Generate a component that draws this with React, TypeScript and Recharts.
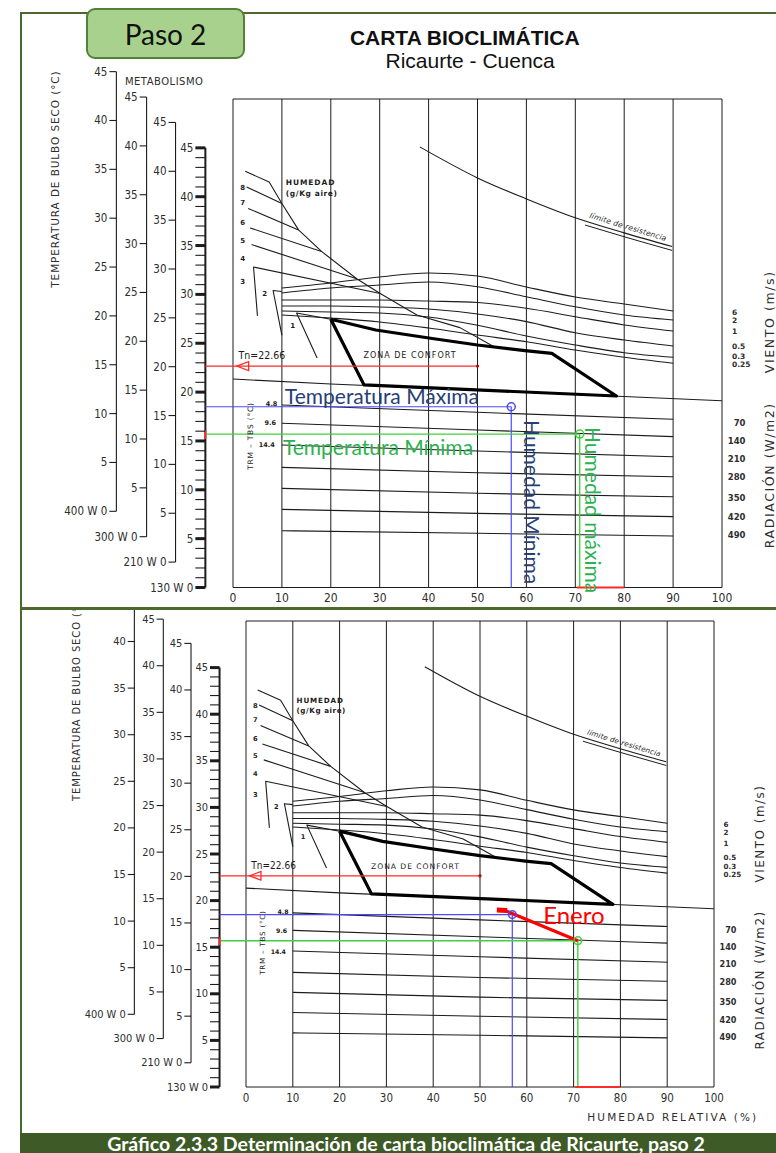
import React from 'react';
import { ComposedChart, Line, XAxis, YAxis, ReferenceLine, ReferenceDot } from 'recharts';

// ---------------- data (RH %, dry-bulb °C) ----------------
const rhTicks = [0, 10, 20, 30, 40, 50, 60, 70, 80, 90, 100];
const scaleTicks = [0, 5, 10, 15, 20, 25, 30, 35, 40, 45];
const fineTicks = [0, 1, 2, 3, 4, 5, 6, 7, 8, 9, 10, 11, 12, 13, 14, 15, 16, 17, 18, 19, 20, 21, 22, 23, 24, 25, 26, 27, 28, 29, 30, 31, 32, 33, 34, 35, 36, 37, 38, 39, 40, 41, 42, 43, 44, 45];
const metabolismLabels = ['400 W', '300 W', '210 W', '130 W'];
const metabolismOffsets = [7.8, 5.2, 2.6, 0];

const limiteResistencia = [
  { rh: 38.2, t: 45.1 }, { rh: 50.1, t: 41.9 }, { rh: 59.9, t: 39.8 },
  { rh: 69.7, t: 37.9 }, { rh: 80.0, t: 36.3 }, { rh: 89.8, t: 34.9 },
];
const limiteResistencia2 = [{ rh: 72.0, t: 37.1 }, { rh: 80.0, t: 35.9 }, { rh: 89.8, t: 34.5 }];

const curvaHumedad = [
  { rh: 2.5, t: 42.6 }, { rh: 7.4, t: 41.5 }, { rh: 10.0, t: 39.3 }, { rh: 13.4, t: 36.6 },
  { rh: 18.1, t: 34.4 }, { rh: 25.3, t: 31.6 }, { rh: 30.1, t: 30.1 }, { rh: 37.6, t: 27.9 },
  { rh: 46.4, t: 26.6 }, { rh: 53.2, t: 24.7 },
];
const humedad8 = [{ rh: 2.8, t: 41.0 }, { rh: 10.0, t: 39.3 }];
const humedad7 = [{ rh: 3.1, t: 38.8 }, { rh: 13.4, t: 36.6 }];
const humedad6 = [{ rh: 3.5, t: 36.8 }, { rh: 18.1, t: 34.4 }];
const humedad5 = [{ rh: 3.8, t: 35.1 }, { rh: 25.3, t: 31.6 }];
const humedad4 = [{ rh: 5.0, t: 27.8 }, { rh: 4.2, t: 32.8 }, { rh: 30.1, t: 30.1 }];
const corchete2 = [{ rh: 10.0, t: 25.8 }, { rh: 8.2, t: 30.4 }, { rh: 10.0, t: 30.3 }];
const corchete1 = [{ rh: 17.2, t: 23.5 }, { rh: 13.0, t: 28.1 }, { rh: 20.0, t: 27.45 }];
const humedadLabels = ['8', '7', '6', '5', '4', '3'];
const humedadLabelT = [40.9, 39.4, 37.3, 35.5, 33.6, 31.3];

const vientoRh = [10, 20, 30, 40, 50, 60, 70, 80, 90];
const viento6 = [30.66, 31.17, 31.78, 32.19, 31.88, 30.76, 29.73, 29.02, 28.3];
const viento2 = [30.15, 30.66, 30.96, 31.27, 30.79, 29.76, 28.73, 27.89, 27.38];
const viento1 = [29.43, 29.43, 29.43, 29.32, 29.17, 28.58, 27.72, 26.87, 26.25];
const viento05 = [28.81, 28.81, 28.71, 28.51, 28.0, 27.21, 26.08, 25.33, 24.72];
const viento03 = [28.3, 28.2, 28.1, 27.69, 26.84, 25.74, 24.82, 24.03, 23.56];
const viento025 = [27.89, 27.58, 27.18, 26.56, 25.84, 25.16, 24.31, 23.56, 22.95];
const vientoLabels = ['6', '2', '1', '0.5', '0.3', '0.25'];
const vientoLabelT = [28.13, 27.28, 26.18, 24.65, 23.69, 22.85];

const radRh = [10, 50, 90];
const rad48 = [18.68, 17.93, 17.22];
const rad96 = [16.81, 16.12, 15.44];
const rad144 = [14.59, 13.97, 13.39];
const rad4 = [12.3, 11.75, 11.34];
const rad5 = [10.15, 9.64, 9.29];
const rad6 = [8.0, 7.59, 7.25];
const rad7 = [5.81, 5.55, 5.27];
const radLabels = ['70', '140', '210', '280', '350', '420', '490'];
const radLabelT = [16.84, 15.0, 13.15, 11.31, 9.16, 7.21, 5.37];
const trmLabels = ['4.8', '9.6', '14.4'];
const trmLabelRh = [7.9, 7.6, 6.9];
const trmLabelT = [18.78, 16.84, 14.59];

const lineaSombra = [{ rh: 0, t: 21.34 }, { rh: 20, t: 20.83 }, { rh: 100, t: 19.12 }];
const zonaConfort = [
  { rh: 20.0, t: 27.45 }, { rh: 29.2, t: 26.36 }, { rh: 40.4, t: 25.51 }, { rh: 50.0, t: 24.82 },
  { rh: 59.7, t: 24.24 }, { rh: 65.2, t: 23.97 }, { rh: 78.4, t: 19.6 }, { rh: 26.8, t: 20.73 },
  { rh: 20.0, t: 27.45 },
];

const Tn = 22.66;
const tempMax = 18.5;
const tempMin = 15.7;
const humMin = 56.9;
const humMax = 70.9;
const enero = [{ rh: 55.5, t: 18.9 }, { rh: 70.9, t: 15.7 }];
const eneroMarca = [{ rh: 53.6, t: 19.0 }, { rh: 55.8, t: 18.95 }];

// ---------------- layout / style ----------------
const SCALE_POS = [-23.85, -17.67, -11.75, -5.65];
const INK = '#1c1c1c';
const INK2 = '#2e2e2e';
const RED = '#ff2b2b';
const BLUE = '#4a4aff';
const GREEN = '#3fd13f';
const NAVY = '#273f75';
const GREEN_TXT = '#2cb24f';
const FRAME = '#4d6a2e';
const CAD = '"DejaVu Sans Condensed", "DejaVu Sans", sans-serif';
const SANS = '"DejaVu Sans", sans-serif';
const ARIAL = '"Liberation Sans", Arial, sans-serif';
const LATO = 'Lato, "Open Sans", sans-serif';

const TOP_GEO = { x0: 233, kx: 4.89, y0: 587.5, ky: 9.77, plotTop: 65, plotBottom: 590, height: 640, s: 1 };
const BOT_GEO = { x0: 246, kx: 4.68, y0: 527, ky: 9.32, plotTop: 20, plotBottom: 530, height: 573, s: 0.955 };

const toPts = (xs: number[], ys: number[]) => xs.map((rh, i) => ({ rh, t: ys[i] }));
// axis ids sorted so that the 130 W scale (k = 3) is the one next to the plot
const axisId = (k: number) => `a${3 - k}`;

function Panel({ g, variant }: { g: any; variant: 'top' | 'bottom' }) {
  const s = g.s;
  const isTop = variant === 'top';
  const tBot = (g.y0 - g.plotBottom) / g.ky;
  const tTop = (g.y0 - g.plotTop) / g.ky;
  const xMin = SCALE_POS[3];
  const pxOf = (rh: number) => g.x0 + g.kx * rh;
  const widths = [
    pxOf(SCALE_POS[0]),
    g.kx * (SCALE_POS[1] - SCALE_POS[0]),
    g.kx * (SCALE_POS[2] - SCALE_POS[1]),
    g.kx * (SCALE_POS[3] - SCALE_POS[2]),
  ];
  const rightW = 776 - pxOf(100);

  const T = (key: string, rh: number, t: number, text: string, st: any = {}) => (
    <ReferenceDot
      key={key}
      xAxisId="x"
      yAxisId="t"
      x={rh}
      y={t}
      r={0}
      ifOverflow="visible"
      shape={(p: any) => (
        <text
          x={p.cx}
          y={p.cy}
          transform={st.rot ? `rotate(${st.rot} ${p.cx} ${p.cy})` : undefined}
          textAnchor={st.anchor || 'middle'}
          dominantBaseline={st.base || 'central'}
          fontSize={(st.size || 10) * s}
          fontFamily={st.font || SANS}
          fontWeight={st.weight || 400}
          fontStyle={st.style || 'normal'}
          letterSpacing={st.ls ? st.ls * s : 0}
          fill={st.fill || INK}
        >
          {text}
        </text>
      )}
    />
  );

  const seg = (key: string, a: any, b: any, stroke = INK, w = 1, yId = 't') => (
    <ReferenceLine
      key={key}
      xAxisId="x"
      yAxisId={yId}
      segment={[{ x: a.rh, y: a.t }, { x: b.rh, y: b.t }]}
      stroke={stroke}
      strokeWidth={w}
      ifOverflow="visible"
    />
  );

  const curve = (key: string, data: any[], stroke = INK, w = 1.1, type: any = 'linear') => (
    <Line
      key={key}
      data={data}
      dataKey="t"
      xAxisId="x"
      yAxisId="t"
      type={type}
      stroke={stroke}
      strokeWidth={w}
      dot={false}
      activeDot={false}
      isAnimationActive={false}
      strokeLinejoin="round"
    />
  );

  const xTick = (p: any) => (
    <text x={p.x} y={p.y + 8 * s} textAnchor="middle" dominantBaseline="central" fontSize={12 * s} fontFamily={CAD} fill={INK2}>
      {p.payload.value}
    </text>
  );

  const scaleTick = (k: number) => (p: any) => {
    const v = p.payload.value;
    const isS4 = k === 3;
    const major = v % 5 === 0;
    const len = (isS4 ? 10 : 7) * s;
    const label = v === 0 ? `${metabolismLabels[k]} 0` : String(v);
    return (
      <g>
        <line x1={p.x - len} x2={p.x} y1={p.y} y2={p.y} stroke={INK} strokeWidth={isS4 ? (major ? 3 : 1.1) : 1.1} />
        {major && (
          <text x={p.x - len - 2 * s} y={p.y} textAnchor="end" dominantBaseline="central" fontSize={11.5 * s} fontFamily={CAD} fill={INK2}>
            {label}
          </text>
        )}
      </g>
    );
  };

  const sideTicks = [...vientoLabelT, ...radLabelT];
  const sideTick = (p: any) => {
    const v = p.payload.value;
    const wi = vientoLabelT.findIndex((q) => Math.abs(q - v) < 1e-6);
    if (wi >= 0) {
      return (
        <text x={p.x + 10 * s} y={p.y} textAnchor="start" dominantBaseline="central" fontSize={7.5 * s} fontFamily={SANS} fontWeight={700} fill={INK2}>
          {vientoLabels[wi]}
        </text>
      );
    }
    const ri = radLabelT.findIndex((q) => Math.abs(q - v) < 1e-6);
    return (
      <text x={p.x + 23.5 * s} y={p.y} textAnchor="end" dominantBaseline="central" fontSize={8.5 * s} fontFamily={SANS} fontWeight={700} fill={INK2}>
        {ri >= 0 ? radLabels[ri] : ''}
      </text>
    );
  };

  const vientos = [viento6, viento2, viento1, viento05, viento03, viento025];
  const rads = [rad48, rad96, rad144, rad4, rad5, rad6, rad7];

  return (
    <ComposedChart width={776} height={g.height} margin={{ top: g.plotTop, right: 0, bottom: 0, left: 0 }}>
      <XAxis
        xAxisId="x"
        dataKey="rh"
        type="number"
        domain={[xMin, 100]}
        allowDataOverflow
        ticks={rhTicks}
        interval={0}
        axisLine={false}
        tickLine={false}
        tickSize={0}
        tickMargin={0}
        height={g.height - g.plotBottom}
        tick={xTick}
      />
      {[3, 2, 1, 0].map((k) => (
        <YAxis
          key={axisId(k)}
          yAxisId={axisId(k)}
          orientation="left"
          type="number"
          domain={[tBot - metabolismOffsets[k], tTop - metabolismOffsets[k]]}
          allowDataOverflow
          ticks={k === 3 ? fineTicks : scaleTicks}
          interval={0}
          width={widths[k]}
          axisLine={false}
          tickLine={false}
          tickSize={0}
          tickMargin={0}
          tick={scaleTick(k)}
        />
      ))}
      <YAxis yAxisId="t" type="number" domain={[tBot, tTop]} allowDataOverflow hide />
      <YAxis
        yAxisId="side"
        orientation="right"
        type="number"
        domain={[tBot, tTop]}
        allowDataOverflow
        ticks={sideTicks}
        interval={0}
        width={rightW}
        axisLine={false}
        tickLine={false}
        tickSize={0}
        tickMargin={0}
        tick={sideTick}
      />

      {/* metabolism scale spines */}
      {[0, 1, 2, 3].map((k) =>
        seg(`sp${k}`, { rh: SCALE_POS[k], t: 0 }, { rh: SCALE_POS[k], t: 45 }, INK, k === 3 ? 2 : 1.1, axisId(k))
      )}

      {/* chart grid */}
      {rhTicks.map((rh) => seg(`gv${rh}`, { rh, t: 0 }, { rh, t: 50 }, INK, 1))}
      {seg('gtop', { rh: 0, t: 50 }, { rh: 100, t: 50 }, INK, 1)}
      {seg('gbot', { rh: 0, t: 0 }, { rh: 100, t: 0 }, INK, 1)}

      {/* curves */}
      {curve('lim', limiteResistencia, INK, 1.1, 'monotone')}
      {curve('lim2', limiteResistencia2, INK, 1, 'monotone')}
      {curve('hum', curvaHumedad, INK, 1.1)}
      {curve('h8', humedad8)}
      {curve('h7', humedad7)}
      {curve('h6', humedad6)}
      {curve('h5', humedad5)}
      {curve('h4', humedad4)}
      {curve('c2', corchete2)}
      {curve('c1', corchete1)}
      {vientos.map((v, i) => curve(`v${i}`, toPts(vientoRh, v), INK, 1.1, 'monotone'))}
      {rads.map((v, i) => curve(`r${i}`, toPts(radRh, v), INK, 1.1, 'monotone'))}
      {curve('sombra', lineaSombra, INK, 1.1)}
      {curve('confort', zonaConfort, '#000', 3.2)}

      {/* chart texts */}
      {T('tA', -36.3, 41.8, 'TEMPERATURA DE BULBO SECO (°C)', { rot: -90, size: 10.5, ls: 0.9, fill: INK2 })}
      {isTop && T('met', -22.1, 51.84, 'METABOLISMO', { anchor: 'start', size: 10, ls: 0.5, fill: INK2 })}
      {isTop && T('ti1', 47.4, 55.5, 'CARTA BIOCLIMÁTICA', { base: 'alphabetic', size: 21, weight: 700, font: ARIAL, fill: '#111' })}
      {isTop && T('ti2', 48.5, 53.2, 'Ricaurte - Cuenca', { base: 'alphabetic', size: 21, font: ARIAL, fill: '#111' })}
      {T('hu1', 10.8, 41.43, 'HUMEDAD', { anchor: 'start', size: 7.5, ls: 0.9, weight: 700 })}
      {T('hu2', 10.8, 40.35, '(g/Kg aire)', { anchor: 'start', size: 7.5, ls: 0.6, weight: 700 })}
      {humedadLabels.map((l, i) => T(`hl${i}`, 2.0, humedadLabelT[i], l, { size: 7, weight: 700 }))}
      {T('hl2b', 6.5, 30.0, '2', { size: 7, weight: 700 })}
      {T('hl1b', 12.2, 26.8, '1', { size: 7, weight: 700 })}
      {T('limT', 80.8, 36.9, 'límite de resistencia', { rot: 17, size: 7.5, style: 'italic', ls: 0.2 })}
      {T('zc', 36.2, 23.7, 'ZONA DE CONFORT', { size: 8, ls: 1 })}
      {trmLabels.map((l, i) => T(`trm${i}`, trmLabelRh[i], trmLabelT[i], l, { size: 6.5, weight: 700 }))}
      {T('trm', 3.5, 15.5, 'TRM – TBS (°C)', { rot: -90, size: 7.5, ls: 0.8 })}
      {T('vto', 109.8, 27.2, 'VIENTO (m/s)', { rot: -90, size: 12.5, ls: 1.6, fill: INK2 })}
      {T('rad', 109.8, 11.5, 'RADIACIÓN (W/m2)', { rot: -90, size: 12.5, ls: 1.6, fill: INK2 })}
      {!isTop && T('hr', 91.2, -3.2, 'HUMEDAD RELATIVA (%)', { size: 11, ls: 2.2, fill: INK2 })}

      {/* Tn */}
      {seg('tn', { rh: xMin, t: Tn }, { rh: 50, t: Tn }, RED, 1.2)}
      <ReferenceDot
        xAxisId="x"
        yAxisId="t"
        x={0.75}
        y={Tn}
        r={0}
        ifOverflow="visible"
        shape={(p: any) => (
          <polygon
            points={`${p.cx},${p.cy} ${p.cx + 12 * s},${p.cy - 4.5 * s} ${p.cx + 12 * s},${p.cy + 4.5 * s}`}
            fill="none"
            stroke={RED}
            strokeWidth={1.3}
          />
        )}
      />
      <ReferenceDot xAxisId="x" yAxisId="t" x={50} y={Tn} r={1.6} fill="#b00" stroke="none" ifOverflow="visible" />
      {T('tnl', 5.9, 23.75, 'Tn=22.66', { size: 10.5, font: CAD })}

      {/* max / min lines */}
      {seg('bh', { rh: xMin, t: tempMax }, { rh: humMin, t: tempMax }, BLUE, 1.2)}
      {seg('bv', { rh: humMin, t: tempMax }, { rh: humMin, t: 0 }, BLUE, 1.2)}
      {seg('gh', { rh: xMin, t: tempMin }, { rh: humMax, t: tempMin }, GREEN, 1.4)}
      {seg('gv', { rh: humMax, t: tempMin }, { rh: humMax, t: 0 }, GREEN, 1.4)}
      {seg('rb', { rh: 70.3, t: 0 }, { rh: 80, t: 0 }, RED, 2)}
      {seg('rs', { rh: xMin, t: 15.2 }, { rh: xMin, t: 16.1 }, RED, 2)}
      <ReferenceDot xAxisId="x" yAxisId="t" x={humMin} y={tempMax} r={4 * s} fill="none" stroke={BLUE} strokeWidth={1.5} ifOverflow="visible" />
      <ReferenceDot xAxisId="x" yAxisId="t" x={humMax} y={tempMin} r={4 * s} fill="none" stroke={GREEN} strokeWidth={1.5} ifOverflow="visible" />

      {isTop && T('tmax', 10.6, 18.78, 'Temperatura Máxima', { anchor: 'start', base: 'alphabetic', size: 21, font: LATO, fill: NAVY })}
      {isTop && T('tmin', 10.2, 13.56, 'Temperatura Mínima', { anchor: 'start', base: 'alphabetic', size: 21, font: LATO, fill: GREEN_TXT })}
      {isTop && T('hmin', 61.2, 17.14, 'Humedad Mínima', { rot: 90, anchor: 'start', size: 21, font: LATO, fill: NAVY })}
      {isTop && T('hmax', 73.8, 16.43, 'Humedad máxima', { rot: 90, anchor: 'start', size: 21, font: LATO, fill: GREEN_TXT })}

      {!isTop && curve('eneM', eneroMarca, '#f00', 5)}
      {!isTop && curve('ene', enero, '#f00', 3.2)}
      {!isTop && T('eneT', 63.5, 17.5, 'Enero', { anchor: 'start', base: 'alphabetic', size: 24 / 0.955, font: LATO, fill: '#f00' })}
    </ComposedChart>
  );
}

export default function App() {
  return (
    <div style={{ position: 'absolute', left: 0, top: 0, width: 776, height: 1153, background: '#fff', overflow: 'hidden' }}>
      {/* frame */}
      <div style={{ position: 'absolute', left: 20, top: 12, width: 756, height: 2, background: FRAME }} />
      <div style={{ position: 'absolute', left: 20, top: 12, width: 2, height: 1122, background: FRAME }} />
      <div style={{ position: 'absolute', left: 20, top: 607, width: 756, height: 3, background: FRAME }} />

      <div style={{ position: 'absolute', left: 0, top: 0, width: 776, height: 607, overflow: 'hidden' }}>
        <Panel g={TOP_GEO} variant="top" />
      </div>
      <div style={{ position: 'absolute', left: 0, top: 610, width: 776, height: 523, overflow: 'hidden' }}>
        <div style={{ position: 'absolute', left: 0, top: -50 }}>
          <Panel g={BOT_GEO} variant="bottom" />
        </div>
      </div>

      {/* Paso 2 badge */}
      <div
        style={{
          position: 'absolute', left: 86, top: 8, width: 159, height: 51, boxSizing: 'border-box',
          background: '#a9d18e', border: '2px solid #538135', borderRadius: 9,
          display: 'flex', alignItems: 'center', justifyContent: 'center',
          fontFamily: LATO, fontSize: 28, color: '#111',
        }}
      >
        Paso 2
      </div>

      {/* caption */}
      <div
        style={{
          position: 'absolute', left: 20, top: 1133, width: 756, height: 20, background: '#3d5a27',
          color: '#fff', fontFamily: LATO, fontWeight: 700, fontSize: 19.5, lineHeight: '20px',
          textAlign: 'center', overflow: 'hidden', whiteSpace: 'nowrap', paddingTop: 1, boxSizing: 'border-box',
        }}
      >
        <span style={{ position: 'relative', left: 8 }}>Gráfico 2.3.3 Determinación de carta bioclimática de Ricaurte, paso 2</span>
      </div>
    </div>
  );
}
